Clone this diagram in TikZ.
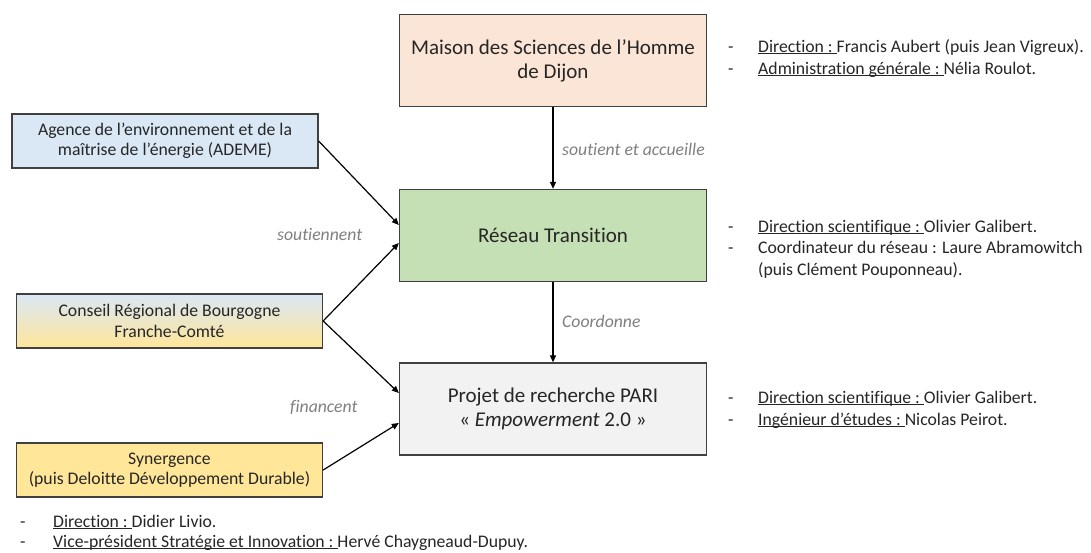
\documentclass[tikz,border=0pt]{standalone}
\usepackage{fontspec}
\setmainfont{Carlito}[Ligatures={NoCommon}]
\usetikzlibrary{arrows.meta,calc}
\definecolor{boxline}{HTML}{404040}
\definecolor{txt}{HTML}{262626}
\definecolor{lblgrey}{HTML}{808080}
\definecolor{peach}{HTML}{FBE5D6}
\definecolor{green1}{HTML}{C5E0B4}
\definecolor{grey1}{HTML}{F2F2F2}
\definecolor{blue1}{HTML}{DAE7F5}
\definecolor{yellow1}{HTML}{FFE699}
\newcommand\myul[1]{\setbox0\hbox{#1}\rlap{\rule[-2.2pt]{\wd0}{0.9pt}}\box0}
\tikzset{
  bigbox/.style={draw=boxline, line width=1.3pt, minimum width=307pt, minimum height=92pt,
    align=center, font=\fontsize{21}{24}\selectfont, text=txt, inner sep=0pt},
  smallbox/.style={bigbox, minimum width=306pt, minimum height=54pt, font=\fontsize{17.7}{20.5}\selectfont},
  conn/.style={-{Triangle[length=7pt,width=6pt]}, line width=1.2pt, black},
  lbl/.style={anchor=base west, font=\fontsize{17.7}{20}\selectfont\itshape, text=lblgrey, inner sep=0pt},
  info/.style={anchor=base west, font=\fontsize{17.7}{22}\selectfont, text=txt, inner sep=0pt},
}
\begin{document}
\begin{tikzpicture}[x=1pt,y=-1pt]
\useasboundingbox[fill=white] (0,0) rectangle (1091,552);

\node[bigbox, fill=peach] (msh) at (553,60.5) {Maison des Sciences de l’Homme\\de Dijon};
\node[bigbox, fill=green1] (reseau) at (553,235.5) {Réseau Transition};
\node[bigbox, fill=grey1] (pari) at (553,409) {Projet de recherche PARI\\« \textit{Empowerment} 2.0 »};

\node[smallbox, fill=blue1] (ademe) at (165,141) {Agence de l’environnement et de la\\maîtrise de l’énergie (ADEME)};
\node[smallbox, top color=blue1, bottom color=yellow1] (conseil) at (169.5,321) {Conseil Régional de Bourgogne\\Franche-Comté};
\node[smallbox, fill=yellow1] (syn) at (169.5,470) {Synergence\\(puis Deloitte Développement Durable)};

\draw[conn] (msh.south) -- (reseau.north);
\draw[conn] (reseau.south) -- (pari.north);
\draw[conn] (ademe.east) -- ([yshift=10.5pt]reseau.west);
\draw[conn] (conseil.east) -- ([yshift=-7.5pt]reseau.west);
\draw[conn] (conseil.east) -- ([yshift=16pt]pari.west);
\draw[conn] (syn.east) -- ([yshift=-14pt]pari.west);

\node[lbl] (l1) at (562,155) {soutient et accueille};
\node[lbl] (l2) at (562,327) {Coordonne};
\node[lbl] (l3) at (277,240) {soutiennent};
\node[lbl] (l4) at (290,412) {financent};

\node[info] (m1) at (728,52) {\makebox[30pt][l]{-}\myul{Direction :\ }Francis Aubert (puis Jean Vigreux).};
\node[info] (m2) at (728,74) {\makebox[30pt][l]{-}\myul{Administration générale :\ }Nélia Roulot.};

\node[info] (r1) at (728,232) {\makebox[30pt][l]{-}\myul{Direction scientifique :\ }Olivier Galibert.};
\node[info] (r2) at (728,253) {\makebox[30pt][l]{-}Coordinateur du réseau : Laure Abramowitch};
\node[info] (r3) at (728,275) {\hspace*{30pt}(puis Clément Pouponneau).};

\node[info] (p1) at (728,403) {\makebox[30pt][l]{-}\myul{Direction scientifique :\ }Olivier Galibert.};
\node[info] (p2) at (728,425) {\makebox[30pt][l]{-}\myul{Ingénieur d’études :\ }Nicolas Peirot.};

\node[info] (s1) at (20,527) {\makebox[33pt][l]{-}\myul{Direction :\ }Didier Livio.};
\node[info] (s2) at (20,547) {\makebox[33pt][l]{-}\myul{Vice-président Stratégie et Innovation :\ }Hervé Chaygneaud-Dupuy.};
\end{tikzpicture}
\end{document}
